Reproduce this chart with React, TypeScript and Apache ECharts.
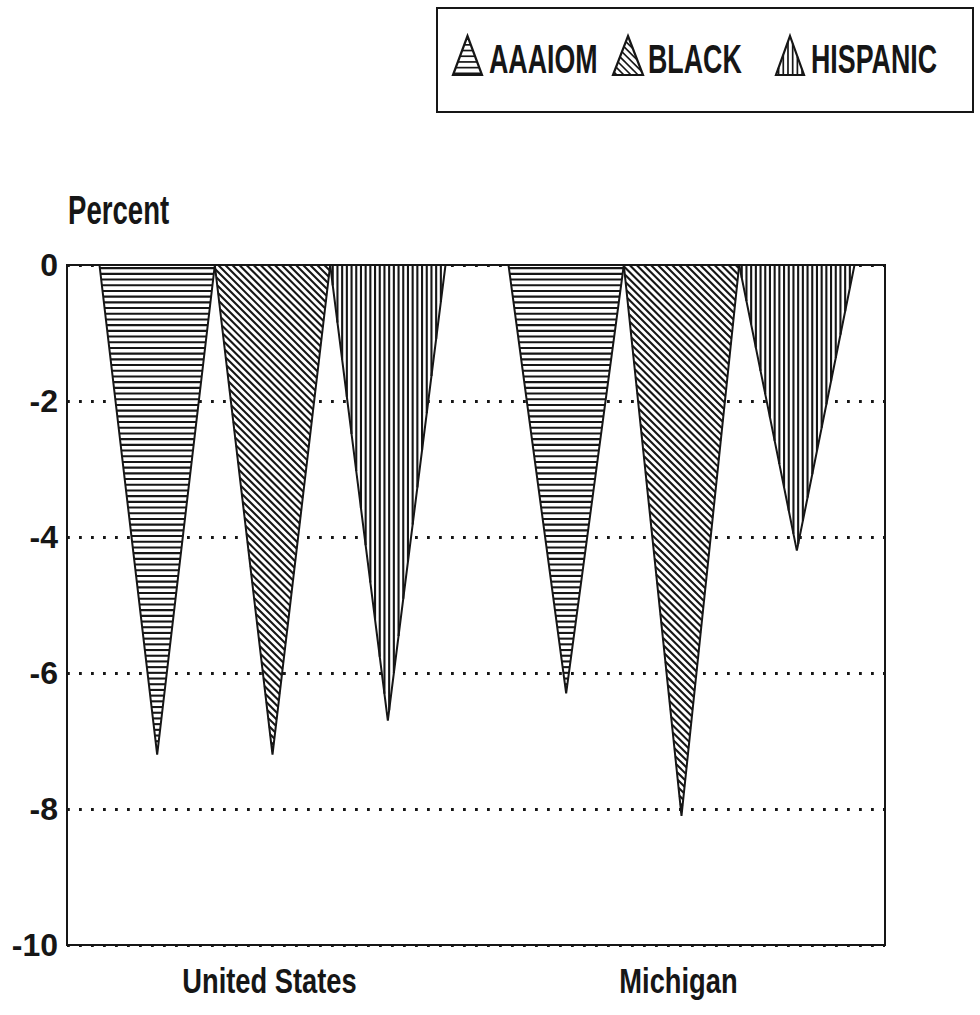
import React, { useEffect, useRef } from "react";
import * as echarts from "echarts";

const CATEGORIES = ["United States", "Michigan"];
const SERIES_NAMES = ["AAAIOM", "BLACK", "HISPANIC"];
const AAAIOM = [-7.2, -6.3];
const BLACK = [-7.2, -8.1];
const HISPANIC = [-6.7, -4.2];
const Y_MIN = -10;
const Y_MAX = 0;
const Y_INTERVAL = 2;
const Y_TITLE = "Percent";

const FONT = '"Liberation Sans", Arial, Helvetica, sans-serif';
const INK = "#161616";

type Pt = [number, number];

// hatch families: normal vector and spacing
const HATCH: { n: Pt; spacing: number }[] = [
  { n: [0, 1], spacing: 5.7 }, // horizontal
  { n: [Math.SQRT1_2, -Math.SQRT1_2], spacing: 5.0 }, // "\" diagonal
  { n: [1, 0], spacing: 4.7 }, // vertical
];

function hatchLines(pts: Pt[], n: Pt, spacing: number, lw: number) {
  const proj = pts.map((p) => p[0] * n[0] + p[1] * n[1]);
  const lo = Math.min(...proj);
  const hi = Math.max(...proj);
  const out: any[] = [];
  for (let c = lo + spacing * 0.55; c < hi; c += spacing) {
    const hits: Pt[] = [];
    for (let i = 0; i < pts.length; i++) {
      const j = (i + 1) % pts.length;
      const fa = proj[i] - c;
      const fb = proj[j] - c;
      if ((fa <= 0 && fb > 0) || (fa > 0 && fb <= 0)) {
        const t = fa / (fa - fb);
        hits.push([
          pts[i][0] + t * (pts[j][0] - pts[i][0]),
          pts[i][1] + t * (pts[j][1] - pts[i][1]),
        ]);
      }
    }
    if (hits.length >= 2) {
      out.push({
        type: "line",
        silent: true,
        shape: { x1: hits[0][0], y1: hits[0][1], x2: hits[1][0], y2: hits[1][1] },
        style: { stroke: INK, lineWidth: lw },
      });
    }
  }
  return out;
}

function hatchedTriangle(pts: Pt[], family: number, lw: number, outlineW: number) {
  const h = HATCH[family];
  return [
    { type: "polygon", silent: true, shape: { points: pts }, style: { fill: "#fff", stroke: "none" } },
    ...hatchLines(pts, h.n, h.spacing, lw),
    { type: "polygon", silent: true, shape: { points: pts }, style: { fill: "none", stroke: INK, lineWidth: outlineW, lineJoin: "miter" } },
  ];
}

function makeSeries(name: string, values: number[], idx: number) {
  return {
    type: "custom",
    name,
    data: values.map((v, i) => [i, v]),
    encode: { x: 0, y: 1 },
    z: 3,
    renderItem: (params: any, api: any) => {
      const cat = api.value(0);
      const val = api.value(1);
      const top = api.coord([cat, 0]);
      const tip = api.coord([cat, val]);
      const band = api.size([1, 0])[0];
      const w = band * 0.282;
      const xc = top[0] + 1 + (idx - 1) * w;
      const pts: Pt[] = [
        [xc - w / 2, top[1]],
        [xc + w / 2, top[1]],
        [xc, tip[1]],
      ];
      return { type: "group", children: hatchedTriangle(pts, idx, 2.1, 2) };
    },
  };
}

function textEl(text: string, x: number, y: number, size: number, scaleX: number, align: string) {
  return {
    type: "text",
    x,
    y,
    scaleX,
    style: {
      text,
      font: `bold ${size}px ${FONT}`,
      fill: INK,
      textVerticalAlign: "middle",
      verticalAlign: "middle",
      textAlign: align,
      align,
    },
  };
}

function legendGraphic() {
  const items = [
    { x: 453, textX: 489, w: 29 },
    { x: 613, textX: 648, w: 30 },
    { x: 776, textX: 811, w: 28 },
  ];
  const children: any[] = [
    {
      type: "rect",
      shape: { x: 437, y: 8, width: 536, height: 104 },
      style: { fill: "#fff", stroke: INK, lineWidth: 2 },
    },
  ];
  items.forEach((it, i) => {
    const pts: Pt[] = [
      [it.x + it.w / 2, 36],
      [it.x + it.w, 75],
      [it.x, 75],
    ];
    children.push(...hatchedTriangle(pts, i, 1.7, 2.2));
    children.push(textEl(SERIES_NAMES[i], it.textX, 59, 40, 0.67, "left"));
  });
  return { type: "group", children };
}

export default function App() {
  const ref = useRef<HTMLDivElement>(null);
  useEffect(() => {
    if (!ref.current) return;
    const chart = echarts.init(ref.current, null, { renderer: "svg" });
    chart.setOption({
      animation: false,
      backgroundColor: "#fff",
      grid: {
        left: 67,
        right: 95,
        top: 265,
        bottom: 70,
        show: true,
        borderColor: INK,
        borderWidth: 2,
        backgroundColor: "transparent",
      },
      xAxis: {
        type: "category",
        data: CATEGORIES,
        boundaryGap: true,
        axisLine: { show: true, lineStyle: { color: INK, width: 2 } },
        axisTick: { show: false },
        axisLabel: { show: false },
        splitLine: { show: false },
      },
      yAxis: {
        type: "value",
        min: Y_MIN,
        max: Y_MAX,
        interval: Y_INTERVAL,
        axisLine: { show: true, lineStyle: { color: INK, width: 2 } },
        axisTick: { show: false },
        axisLabel: {
          color: INK,
          fontFamily: FONT,
          fontWeight: "bold",
          fontSize: 32,
          margin: 9,
        },
        splitLine: {
          show: true,
          lineStyle: { color: INK, width: 2.8, type: [2.8, 9.2] },
        },
      },
      series: [
        makeSeries(SERIES_NAMES[0], AAAIOM, 0),
        makeSeries(SERIES_NAMES[1], BLACK, 1),
        makeSeries(SERIES_NAMES[2], HISPANIC, 2),
      ],
    });

    const catLabels = CATEGORIES.map((c, i) => {
      const p = chart.convertToPixel({ gridIndex: 0 }, [i, Y_MIN]) as number[];
      return textEl(c, p[0] - 2, p[1] + 36, 35, 0.78, "center");
    });
    const top = chart.convertToPixel({ gridIndex: 0 }, [0, Y_MAX]) as number[];
    chart.setOption({
      graphic: [
        legendGraphic(),
        textEl(Y_TITLE, 68, top[1] - 55, 40, 0.69, "left"),
        ...catLabels,
      ],
    });
    return () => chart.dispose();
  }, []);
  return (
    <div
      ref={ref}
      style={{ position: "fixed", left: 0, top: 0, width: 980, height: 1015, background: "#fff" }}
    />
  );
}
